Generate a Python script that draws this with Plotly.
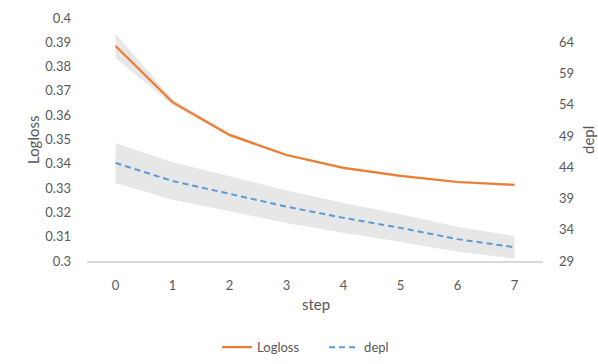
import plotly.graph_objects as go

steps = [0, 1, 2, 3, 4, 5, 6, 7]
logloss = [0.3885, 0.3654, 0.3519, 0.3436, 0.3383, 0.3350, 0.3325, 0.3313]
logloss_err = [0.0050, 0.0012, 0.0008, 0.0006, 0.0005, 0.0005, 0.0005, 0.0005]
depl = [44.7, 41.8, 39.75, 37.7, 35.9, 34.3, 32.5, 31.2]
depl_err = [3.2, 3.0, 2.8, 2.6, 2.4, 2.2, 2.0, 1.8]
left_ticks = [0.3, 0.31, 0.32, 0.33, 0.34, 0.35, 0.36, 0.37, 0.38, 0.39, 0.4]
left_tick_text = ["0.3", "0.31", "0.32", "0.33", "0.34", "0.35", "0.36", "0.37", "0.38", "0.39", "0.4"]
right_ticks = [29, 34, 39, 44, 49, 54, 59, 64]

ORANGE = "#ED7D31"
BLUE = "#5B9BD5"
BAND = "rgba(217,217,217,0.62)"
FONT = "Lato"
TXT = "#595959"

fig = go.Figure()

# depl band (right axis)
fig.add_trace(go.Scatter(x=steps, y=[d + e for d, e in zip(depl, depl_err)], yaxis="y2",
                         mode="lines", line=dict(width=0), showlegend=False, hoverinfo="skip"))
fig.add_trace(go.Scatter(x=steps, y=[d - e for d, e in zip(depl, depl_err)], yaxis="y2",
                         mode="lines", line=dict(width=0), fill="tonexty", fillcolor=BAND,
                         showlegend=False, hoverinfo="skip"))
# logloss band
fig.add_trace(go.Scatter(x=steps, y=[v + e for v, e in zip(logloss, logloss_err)],
                         mode="lines", line=dict(width=0), showlegend=False, hoverinfo="skip"))
fig.add_trace(go.Scatter(x=steps, y=[v - e for v, e in zip(logloss, logloss_err)],
                         mode="lines", line=dict(width=0), fill="tonexty", fillcolor=BAND,
                         showlegend=False, hoverinfo="skip"))

fig.add_trace(go.Scatter(x=steps, y=logloss, mode="lines", name="Logloss", legendrank=1,
                         line=dict(color=ORANGE, width=2.2)))
fig.add_trace(go.Scatter(x=steps, y=depl, mode="lines", name="depl", yaxis="y2", legendrank=2,
                         line=dict(color=BLUE, width=2, dash="6px,4px")))

fig.update_layout(
    width=598, height=364,
    margin=dict(l=87, r=55, t=18, b=103, autoexpand=False),
    paper_bgcolor="white", plot_bgcolor="white",
    font=dict(family=FONT, size=13, color=TXT),
    showlegend=True,
    legend=dict(orientation="h", x=0.52, xanchor="center", y=-0.355, yanchor="middle",
                traceorder="normal", entrywidth=62, entrywidthmode="pixels",
                font=dict(size=13, color=TXT), bgcolor="rgba(0,0,0,0)"),
    xaxis=dict(range=[-0.5, 7.5], tickvals=steps, showgrid=False, zeroline=False,
               showline=True, linecolor="#d9d9d9", linewidth=1.5, ticks="", automargin=False,
               ticklabelstandoff=12, tickfont=dict(size=13, color=TXT)),
    yaxis=dict(range=[0.3, 0.4], tickvals=left_ticks, ticktext=left_tick_text, automargin=False,
               showgrid=False, zeroline=False, showline=False, ticks="",
               ticklabelstandoff=15, tickfont=dict(size=13, color=TXT)),
    yaxis2=dict(range=[29, 29 + 35 * 10 / 9], tickvals=right_ticks, overlaying="y", side="right",
                showgrid=False, zeroline=False, showline=False, ticks="", automargin=False,
                ticklabelstandoff=15, tickfont=dict(size=13, color=TXT)),
    annotations=[
        dict(text="Logloss", x=33, y=140, textangle=-90),
        dict(text="depl", x=588, y=140, textangle=-90),
        dict(text="step", x=316, y=304),
    ],
)

# convert pixel positions of titles to paper coordinates
pw, ph = 598 - 87 - 55, 364 - 18 - 103
for a in fig.layout.annotations:
    a.update(xref="paper", yref="paper", showarrow=False, xanchor="center", yanchor="middle",
             font=dict(size=15, color=TXT))
    a.x = (a.x - 87) / pw
    a.y = (364 - 103 - a.y) / ph

fig.write_html("out.html", post_script="document.body.style.margin='0';",
               config={"displayModeBar": False})
